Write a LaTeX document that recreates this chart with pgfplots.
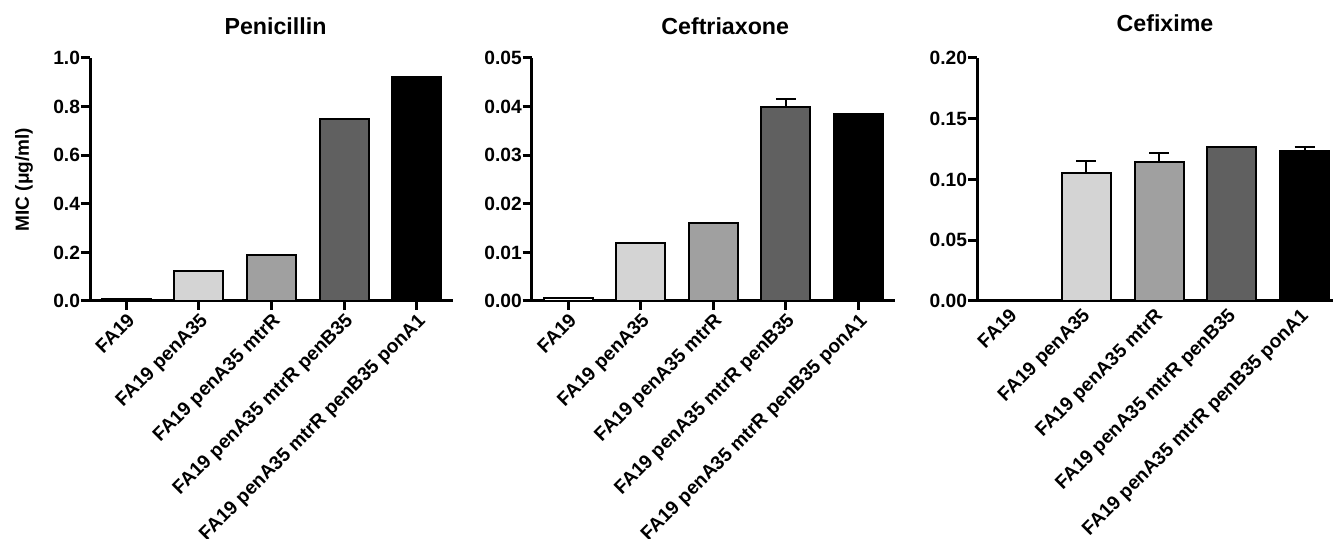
\documentclass[border=0pt]{standalone}
\usepackage{pgfplots}
\pgfplotsset{compat=1.18}
\usepackage{fontspec}
\setmainfont{Liberation Sans}
\definecolor{g1}{HTML}{D4D4D4}
\definecolor{g2}{HTML}{A0A0A0}
\definecolor{g3}{HTML}{606060}
\pgfplotsset{
  common/.style={
    scale only axis, width=181.5pt, height=121.5pt,
    anchor=south west,
    ybar, xmin=-0.5, xmax=4.5, ymin=0,
    axis lines=left, axis line style={-, line width=1.5pt, black},
    tick style={line width=1.5pt, black}, tick align=outside, major tick length=4.5pt,
    xtick={0,1,2,3,4},
    xticklabels={FA19, FA19 penA35, FA19 penA35 mtrR, FA19 penA35 mtrR penB35, FA19 penA35 mtrR penB35 ponA1},
    xticklabel style={rotate=45, anchor=north east, inner sep=0.6pt, font=\bfseries\fontsize{9.6}{10}\selectfont},
    yticklabel style={font=\bfseries\fontsize{9.6}{10}\selectfont, inner sep=0.3pt},
    /pgf/number format/assume math mode=true,
    scaled y ticks=false,
    title style={font=\bfseries\fontsize{11.6}{12}\selectfont, anchor=base, at={(0.5,1)}, yshift=5.5pt},
    clip=false,
    error bars/error bar style={line width=1pt, black},
    error bars/error mark options={rotate=90, mark size=5pt, line width=1pt, black},
  },
  b/.style={draw=black, line width=1pt, bar width=24.5pt, bar shift=0pt, fill=#1},
}
\begin{document}
\begin{tikzpicture}
\useasboundingbox (0,0) rectangle (666.5pt,269.5pt);
% Penicillin
\begin{axis}[common, at={(45pt,119pt)}, ymax=1,
  ytick={0,0.2,0.4,0.6,0.8,1.0},
  yticklabel style={/pgf/number format/fixed, /pgf/number format/fixed zerofill, /pgf/number format/precision=1},
  title={Penicillin}, title style={xshift=2pt},
  ylabel={MIC (μg/ml)},
  ylabel style={font=\bfseries\fontsize{9.5}{10}\selectfont, at={(axis description cs:0,0.5)}, anchor=center, yshift=33pt}]
\addplot[b=white] coordinates {(0,0.008)};
\addplot[b=g1] coordinates {(1,0.125)};
\addplot[b=g2] coordinates {(2,0.19)};
\addplot[b=g3] coordinates {(3,0.75)};
\addplot[b=black] coordinates {(4,0.92)};
\end{axis}
% Ceftriaxone
\begin{axis}[common, at={(265.85pt,119pt)}, ymax=0.05,
  ytick={0,0.01,0.02,0.03,0.04,0.05},
  yticklabel style={/pgf/number format/fixed, /pgf/number format/fixed zerofill, /pgf/number format/precision=2},
  title={Ceftriaxone}, title style={xshift=6pt}]
\addplot[b=white] coordinates {(0,0.0006)};
\addplot[b=g1] coordinates {(1,0.012)};
\addplot[b=g2] coordinates {(2,0.016)};
\addplot[b=g3, error bars/.cd, y dir=plus, y explicit] coordinates {(3,0.040) +- (0,0.0016)};
\addplot[b=black] coordinates {(4,0.0385)};
\end{axis}
% Cefixime
\begin{axis}[common, at={(488.5pt,119pt)}, width=178pt, xmax=4.39, ymax=0.2,
  ytick={0,0.05,0.10,0.15,0.20},
  yticklabel style={/pgf/number format/fixed, /pgf/number format/fixed zerofill, /pgf/number format/precision=2},
  xtick style={draw=none}, xticklabel style={yshift=3.5pt},
  title={Cefixime}, title style={xshift=5pt, yshift=1.5pt}]
\addplot[b=white] coordinates {(0,0.0005)};
\addplot[b=g1, error bars/.cd, y dir=plus, y explicit] coordinates {(1,0.1053) +- (0,0.0096)};
\addplot[b=g2, error bars/.cd, y dir=plus, y explicit] coordinates {(2,0.114) +- (0,0.0077)};
\addplot[b=g3] coordinates {(3,0.1266)};
\addplot[b=black, error bars/.cd, y dir=plus, y explicit] coordinates {(4,0.1237) +- (0,0.0027)};
\end{axis}
\end{tikzpicture}
\end{document}
